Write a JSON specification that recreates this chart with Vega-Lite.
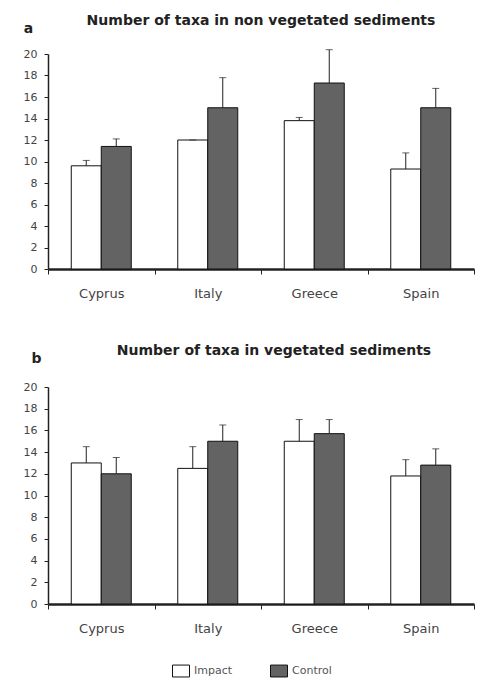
{
  "$schema": "https://vega.github.io/schema/vega-lite/v6.json",
  "background": "white",
  "padding": {"left": 23, "top": 14, "right": 4, "bottom": 0},
  "data": {"values": [
    {"panel": "a", "country": "Cyprus", "series": "Impact", "value": 9.6, "err": 10.1},
    {"panel": "a", "country": "Cyprus", "series": "Control", "value": 11.4, "err": 12.1},
    {"panel": "a", "country": "Italy", "series": "Impact", "value": 12.0, "err": 12.0},
    {"panel": "a", "country": "Italy", "series": "Control", "value": 15.0, "err": 17.8},
    {"panel": "a", "country": "Greece", "series": "Impact", "value": 13.8, "err": 14.1},
    {"panel": "a", "country": "Greece", "series": "Control", "value": 17.3, "err": 20.4},
    {"panel": "a", "country": "Spain", "series": "Impact", "value": 9.3, "err": 10.8},
    {"panel": "a", "country": "Spain", "series": "Control", "value": 15.0, "err": 16.8},
    {"panel": "b", "country": "Cyprus", "series": "Impact", "value": 13.0, "err": 14.5},
    {"panel": "b", "country": "Cyprus", "series": "Control", "value": 12.0, "err": 13.5},
    {"panel": "b", "country": "Italy", "series": "Impact", "value": 12.5, "err": 14.5},
    {"panel": "b", "country": "Italy", "series": "Control", "value": 15.0, "err": 16.5},
    {"panel": "b", "country": "Greece", "series": "Impact", "value": 15.0, "err": 17.0},
    {"panel": "b", "country": "Greece", "series": "Control", "value": 15.7, "err": 17.0},
    {"panel": "b", "country": "Spain", "series": "Impact", "value": 11.8, "err": 13.3},
    {"panel": "b", "country": "Spain", "series": "Control", "value": 12.8, "err": 14.3}
  ]},
  "config": {
    "font": "DejaVu Sans",
    "view": {"stroke": null},
    "axis": {"labelFont": "DejaVu Sans", "labelColor": "#444444", "domainColor": "#222222", "tickColor": "#222222", "grid": false},
    "axisX": {"labelFontSize": 13},
    "axisY": {"labelFontSize": 11, "labelOverlap": false},
    "title": {"font": "DejaVu Sans", "fontSize": 14, "fontWeight": "bold", "color": "#222222"},
    "legend": {"labelFont": "DejaVu Sans"},
    "concat": {"spacing": 44}
  },
  "resolve": {"scale": {"fill": "shared"}},
  "vconcat": [
    {
      "title": {"text": "Number of taxa in non vegetated sediments", "offset": -7},
      "width": 426,
      "height": 215,
      "transform": [{"filter": "datum.panel === 'a'"}],
      "encoding": {
        "x": {"field": "country", "type": "nominal", "sort": ["Cyprus", "Italy", "Greece", "Spain"],
          "scale": {"paddingInner": 0, "paddingOuter": 0},
          "axis": {"title": null, "labelAngle": 0, "tickBand": "extent", "tickSize": 5, "labelPadding": 13, "domainWidth": 2.5}},
        "xOffset": {"field": "series", "sort": ["Impact", "Control"], "scale": {"paddingInner": 0, "paddingOuter": 0.775}}
      },
      "layer": [
        {"mark": {"type": "bar", "stroke": "#111111", "strokeWidth": 1},
          "encoding": {
            "y": {"field": "value", "type": "quantitative", "scale": {"domain": [0, 20], "nice": false},
              "axis": {"values": [0, 2, 4, 6, 8, 10, 12, 14, 16, 18, 20], "tickCount": 22, "labelOverlap": false, "labelFontSize": 11, "tickSize": 4, "labelPadding": 7, "domainWidth": 1.5,
                "title": "a", "titleAngle": 0, "titleX": -20, "titleY": -26, "titleAlign": "center", "titleBaseline": "middle", "titleFontSize": 14, "titleFontWeight": "bold", "titleColor": "#222222"}},
            "fill": {"field": "series", "type": "nominal", "scale": {"domain": ["Impact", "Control"], "range": ["#ffffff", "#636363"]},
              "legend": {"title": null, "orient": "none", "legendX": 124, "legendY": 608, "direction": "horizontal", "symbolType": "M-1,-0.7H1V0.7H-1Z", "symbolStrokeColor": "#111111", "symbolStrokeWidth": 1, "symbolSize": 289, "labelFontSize": 11, "labelColor": "#555555", "columnPadding": 35}}
          }},
        {"mark": {"type": "rule", "color": "#222222", "strokeWidth": 1},
          "encoding": {"y": {"field": "value", "type": "quantitative", "title": "a"}, "y2": {"field": "err"}}},
        {"mark": {"type": "tick", "color": "#222222", "thickness": 1, "size": 7},
          "encoding": {"y": {"field": "err", "type": "quantitative", "title": "a"}}}
      ]
    },
    {
      "title": {"text": "Number of taxa in vegetated sediments", "offset": -7, "dx": 13},
      "width": 426,
      "height": 217,
      "transform": [{"filter": "datum.panel === 'b'"}],
      "encoding": {
        "x": {"field": "country", "type": "nominal", "sort": ["Cyprus", "Italy", "Greece", "Spain"],
          "scale": {"paddingInner": 0, "paddingOuter": 0},
          "axis": {"title": null, "labelAngle": 0, "tickBand": "extent", "tickSize": 5, "labelPadding": 13, "domainWidth": 2.5}},
        "xOffset": {"field": "series", "sort": ["Impact", "Control"], "scale": {"paddingInner": 0, "paddingOuter": 0.775}}
      },
      "layer": [
        {"mark": {"type": "bar", "stroke": "#111111", "strokeWidth": 1},
          "encoding": {
            "y": {"field": "value", "type": "quantitative", "scale": {"domain": [0, 20], "nice": false},
              "axis": {"values": [0, 2, 4, 6, 8, 10, 12, 14, 16, 18, 20], "tickCount": 22, "labelOverlap": false, "labelFontSize": 11, "tickSize": 4, "labelPadding": 7, "domainWidth": 1.5,
                "title": "b", "titleAngle": 0, "titleX": -12, "titleY": -29, "titleAlign": "center", "titleBaseline": "middle", "titleFontSize": 14, "titleFontWeight": "bold", "titleColor": "#222222"}},
            "fill": {"field": "series", "type": "nominal", "scale": {"domain": ["Impact", "Control"], "range": ["#ffffff", "#636363"]},
              "legend": {"title": null, "orient": "none", "legendX": 124, "legendY": 608, "direction": "horizontal", "symbolType": "M-1,-0.7H1V0.7H-1Z", "symbolStrokeColor": "#111111", "symbolStrokeWidth": 1, "symbolSize": 289, "labelFontSize": 11, "labelColor": "#555555", "columnPadding": 35}}
          }},
        {"mark": {"type": "rule", "color": "#222222", "strokeWidth": 1},
          "encoding": {"y": {"field": "value", "type": "quantitative", "title": "b"}, "y2": {"field": "err"}}},
        {"mark": {"type": "tick", "color": "#222222", "thickness": 1, "size": 7},
          "encoding": {"y": {"field": "err", "type": "quantitative", "title": "b"}}}
      ]
    }
  ]
}
